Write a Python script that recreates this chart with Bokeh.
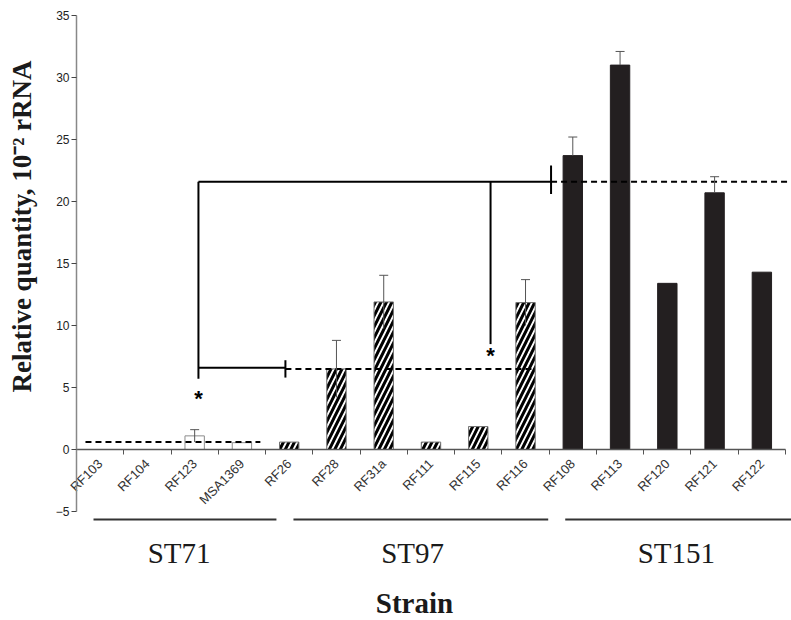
import math
from bokeh.plotting import figure
from bokeh.models import ColumnDataSource, FixedTicker, Whisker, TeeHead, Range1d
from bokeh.core.properties import value
from bokeh.embed import file_html
from bokeh.resources import INLINE

# ---------------- data ----------------
strains = ["RF103", "RF104", "RF123", "MSA1369", "RF26",
           "RF28", "RF31a", "RF111", "RF115", "RF116",
           "RF108", "RF113", "RF120", "RF121", "RF122"]
groups = ["ST71"] * 4 + ["ST97"] * 6 + ["ST151"] * 5
rel_quantity = [0.0, 0.0, 1.1, 0.55, 0.6,
                6.5, 11.9, 0.6, 1.85, 11.85,
                23.7, 31.0, 13.4, 20.7, 14.3]
error = [0.0, 0.0, 0.5, 0.0, 0.0,
         2.3, 2.15, 0.0, 0.0, 1.85,
         1.5, 1.1, 0.0, 1.3, 0.0]
group_names = ["ST71", "ST97", "ST151"]
group_means = [0.6, 6.5, 21.6]
y_ticks = [-5, 0, 5, 10, 15, 20, 25, 30, 35]
y_label = "Relative quantity, 10\u207b\u00b2 rRNA"
x_label = "Strain"

# ---------------- layout (positions in axis units) ----------------
mean_x0 = [0.19, 4.42, 10.04]
mean_x1 = [3.89, 9.7, 15.12]
group_line_x0 = [0.36, 4.59, 10.34]
group_line_x1 = [4.23, 9.98, 15.12]
group_line_y = -5.65
group_label_x = [2.17, 7.11, 12.69]
group_label_y = -8.31
strain_label_x = 7.15
strain_label_y = -12.34
ylabel_x = -1.16
ylabel_y = 17.98
star_x = [2.58, 8.76]
star_y = [4.15, 7.62]

fill_map = {"ST71": "white", "ST97": "white", "ST151": "#231f20"}
hatch_map = {"ST71": " ", "ST97": "/", "ST151": " "}
line_map = {"ST71": "#8c8c8c", "ST97": "#707070", "ST151": "#231f20"}

x_centers = [i + 0.5 for i in range(len(strains))]

src = ColumnDataSource(dict(
    x=x_centers, top=rel_quantity, strain=strains, group=groups,
    fill=[fill_map[g] for g in groups],
    hatch=[hatch_map[g] for g in groups],
    line=[line_map[g] for g in groups],
))

p = figure(width=791, height=620,
           x_range=Range1d(-1.6078, 15.127), y_range=Range1d(-13.79, 36.21),
           output_backend="svg", toolbar_location=None,
           min_border_left=0, min_border_right=0,
           min_border_top=0, min_border_bottom=0)
p.grid.visible = False
p.outline_line_color = None
p.background_fill_color = "white"

# bars
p.vbar(x="x", top="top", bottom=0, width=0.41, source=src,
       fill_color="fill", line_color="line", line_width=1,
       hatch_pattern="hatch", hatch_color="black",
       hatch_weight=3, hatch_scale=11)

# error bars (the part inside the solid black bars is not visible)
ex, elo, ehi = [], [], []
for xc, v, e, g in zip(x_centers, rel_quantity, error, groups):
    if e > 0:
        ex.append(xc)
        elo.append(v if g == "ST151" else v - e)
        ehi.append(v + e)
wsrc = ColumnDataSource(dict(x=ex, lower=elo, upper=ehi))
p.add_layout(Whisker(source=wsrc, base="x", lower="lower", upper="upper",
                     dimension="height", line_color="#555555", line_width=1,
                     upper_head=TeeHead(size=9, line_color="#555555", line_width=1),
                     lower_head=None, level="overlay"))

# group mean dashed lines
p.segment(x0=mean_x0, y0=group_means, x1=mean_x1, y1=group_means,
          line_color="black", line_width=2, line_dash="6 4")

# comparison brackets
p.segment(x0=[star_x[0], mean_x0[2], star_x[0], star_x[0], mean_x0[1], star_x[1]],
          y0=[group_means[2], group_means[2] - 1.0, group_means[2], group_means[1] + 0.1, group_means[1] - 0.7, group_means[2]],
          x1=[mean_x0[2], mean_x0[2], star_x[0], mean_x0[1], mean_x0[1], star_x[1]],
          y1=[group_means[2], group_means[2] + 1.3, 5.7, group_means[1] + 0.1, group_means[1] + 0.7, 8.5],
          line_color="black", line_width=2)

# asterisks
p.text(x=star_x, y=star_y, text=["*", "*"], text_font=value("Liberation Sans"),
       text_font_size="22px", text_font_style="bold", text_align="center",
       text_baseline="alphabetic", text_color="black")

# group lines and labels
p.segment(x0=group_line_x0, y0=[group_line_y] * 3, x1=group_line_x1, y1=[group_line_y] * 3,
          line_color="#333333", line_width=2)
p.text(x=group_label_x, y=[group_label_y] * 3, text=group_names,
       text_font=value("Liberation Serif"), text_font_size="29px",
       text_align="center", text_baseline="alphabetic", text_color="#1a1a1a")
p.text(x=[strain_label_x], y=[strain_label_y], text=[x_label],
       text_font=value("Liberation Serif"), text_font_size="29px", text_font_style="bold",
       text_align="center", text_baseline="alphabetic", text_color="#1a1a1a")

# y axis title (rotated)
p.text(x=[ylabel_x], y=[ylabel_y], text=[y_label], angle=math.pi / 2,
       text_font=value("Liberation Serif"), text_font_size="27px", text_font_style="bold",
       text_align="center", text_baseline="middle", text_color="#1a1a1a")

# y axis at x = 0
yax = p.yaxis[0]
yax.fixed_location = 0
yax.ticker = FixedTicker(ticks=y_ticks)
yax.bounds = (-5, 35)
yax.axis_line_color = "#888888"
yax.axis_line_width = 1.5
yax.major_tick_out = 5
yax.major_tick_in = 0
yax.major_tick_line_color = "#444444"
yax.minor_tick_line_color = None
yax.major_label_text_font = "Liberation Sans"
yax.major_label_text_font_size = "12px"
yax.major_label_text_color = "#222222"
yax.major_label_standoff = 2

# x axis at y = 0
xax = p.xaxis[0]
xax.fixed_location = 0
xax.bounds = (0, 15)
xax.ticker = FixedTicker(ticks=x_centers, minor_ticks=list(range(len(strains) + 1)))
xax.major_label_overrides = {xc: s for xc, s in zip(x_centers, strains)}
xax.major_tick_line_color = None
xax.major_tick_out = 0
xax.major_tick_in = 0
xax.minor_tick_out = 5
xax.minor_tick_in = 0
xax.minor_tick_line_color = "#555555"
xax.axis_line_color = "#555555"
xax.axis_line_width = 1.5
xax.major_label_orientation = math.pi / 4
xax.major_label_text_font = "Liberation Sans"
xax.major_label_text_font_size = "13px"
xax.major_label_text_color = "#333333"
xax.major_label_standoff = 7

open("out.html", "w").write(file_html(p, INLINE))
